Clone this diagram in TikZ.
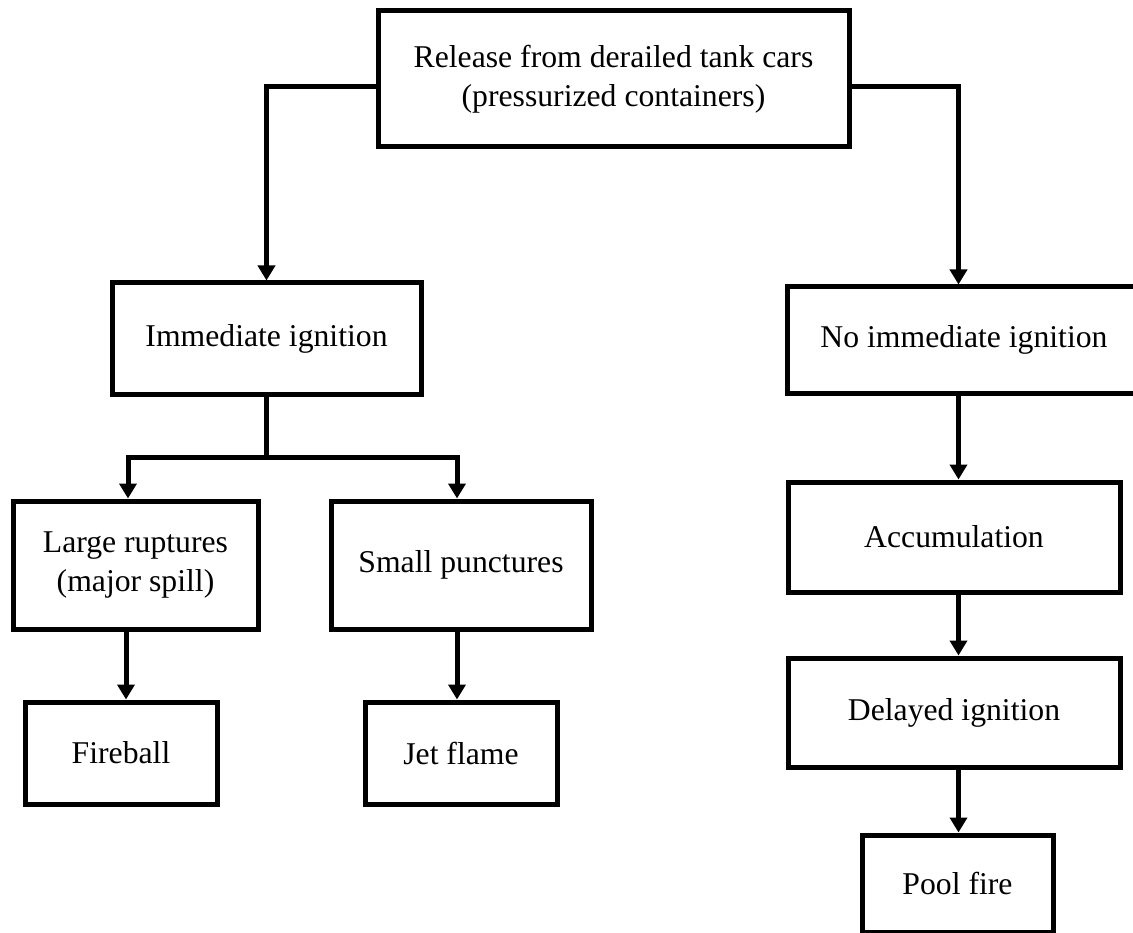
\documentclass[tikz,border=0pt]{standalone}
\usepackage{fontspec}
\setmainfont{Liberation Serif}
\usetikzlibrary{arrows.meta}
\begin{document}
\begin{tikzpicture}[x=1pt,y=-1pt,
  box/.style={draw, line width=5pt, rectangle, inner sep=0pt, align=center,
              font=\fontsize{31.7}{38.5}\selectfont},
  conn/.style={line width=5pt},
  arr/.style={line width=5pt, -{Triangle[length=15pt,width=17pt]}}]
\clip (0,0) rectangle (1133,933);
\fill[white] (0,0) rectangle (1133,933);
% nodes
\node[box, minimum width=471pt, minimum height=136pt] (top) at (613.5,79)
  {Release from derailed tank cars\\(pressurized containers)};
\node[box, minimum width=309pt, minimum height=111pt] (imm) at (266.5,338.5) {Immediate ignition};
\node[box, minimum width=354pt, minimum height=106pt] (noimm) at (964,340) {No immediate ignition};
\node[box, minimum width=245pt, minimum height=128pt] (large) at (135.5,565)
  {Large ruptures\\(major spill)};
\node[box, minimum width=260pt, minimum height=128pt] (small) at (461,565) {Small punctures};
\node[box, minimum width=192pt, minimum height=102pt] (fireball) at (121,753) {Fireball};
\node[box, minimum width=192pt, minimum height=102pt] (jet) at (461,753) {Jet flame};
\node[box, minimum width=332pt, minimum height=110pt] (accum) at (954,537) {Accumulation};
\node[box, minimum width=332pt, minimum height=109pt] (delayed) at (954,712.5) {Delayed ignition};
\node[box, minimum width=191pt, minimum height=97pt] (pool) at (957.5,883.5) {Pool fire};
% helper coordinates
\coordinate (j) at (imm.south |- 0,457);
\coordinate (bl) at (128,457);
\coordinate (br) at (457,457);
\coordinate (lc) at (126,0);
\coordinate (rc) at (958.5,0);
% connectors
\draw[arr] ([yshift=-8pt]top.west) -| (imm.north);
\draw[arr] ([yshift=-8pt]top.east) -| (rc |- noimm.north);
\draw[conn] (imm.south) -- (j);
\draw[arr] (j) -- (bl) -- (bl |- large.north);
\draw[arr] (j) -- (br) -- (br |- small.north);
\draw[arr] (lc |- large.south) -- (lc |- fireball.north);
\draw[arr] (br |- small.south) -- (br |- jet.north);
\draw[arr] (rc |- noimm.south) -- (rc |- accum.north);
\draw[arr] (rc |- accum.south) -- (rc |- delayed.north);
\draw[arr] (rc |- delayed.south) -- (rc |- pool.north);
\end{tikzpicture}
\end{document}
